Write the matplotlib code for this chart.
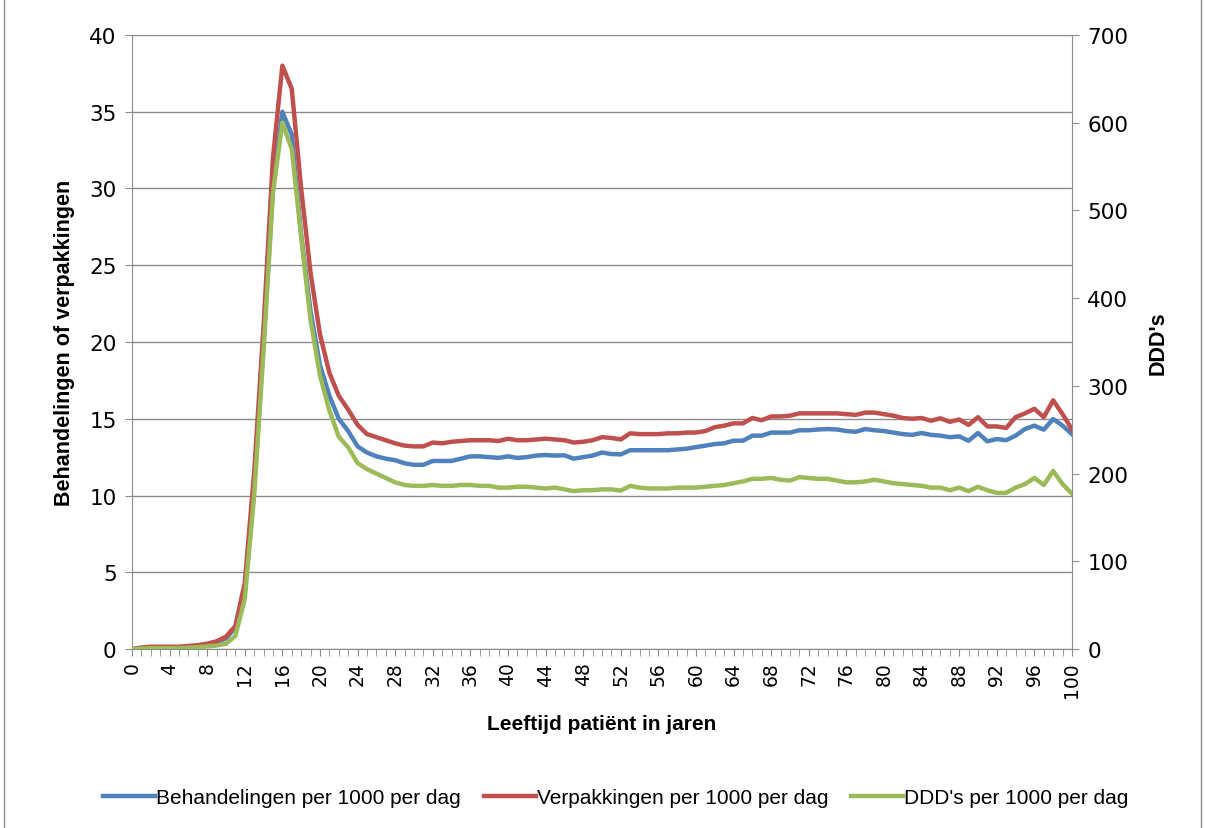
import numpy as np
import matplotlib.pyplot as plt
from matplotlib.patches import Rectangle

# Leeftijd 0..100
leeftijd = list(range(0, 101))

behandelingen = [
    0.0, 0.02, 0.05, 0.05, 0.05, 0.05, 0.1, 0.15, 0.25, 0.4,
    0.7, 1.4, 3.6, 10.5, 20.0, 30.0, 35.0, 33.5, 27.0, 22.0,
    18.5, 16.5, 15.0, 14.2, 13.2, 12.8, 12.55, 12.4, 12.3, 12.1,
    12.0, 12.0, 12.25, 12.25, 12.25, 12.4, 12.55, 12.55, 12.5, 12.45,
    12.55, 12.45, 12.5, 12.6, 12.64, 12.6, 12.62, 12.4, 12.5, 12.6,
    12.8, 12.7, 12.68, 12.95, 12.95, 12.95, 12.95, 12.95, 13.0, 13.05,
    13.15, 13.25, 13.35, 13.4, 13.57, 13.57, 13.9, 13.9, 14.1, 14.1,
    14.1, 14.25, 14.25, 14.3, 14.33, 14.3, 14.2, 14.15, 14.33, 14.25,
    14.2, 14.1, 14.0, 13.95, 14.07, 13.95, 13.9, 13.8, 13.85, 13.57,
    14.07, 13.53, 13.68, 13.6, 13.9, 14.33, 14.55, 14.29, 14.98, 14.55,
    14.0]

verpakkingen = [
    0.0, 0.1, 0.15, 0.15, 0.15, 0.15, 0.2, 0.25, 0.35, 0.5,
    0.8, 1.5, 4.3, 11.5, 21.0, 32.0, 38.0, 36.5, 30.0, 24.5,
    20.5, 18.0, 16.5, 15.6, 14.6, 14.0, 13.8, 13.6, 13.4, 13.25,
    13.2, 13.2, 13.45, 13.4, 13.5, 13.55, 13.6, 13.6, 13.6, 13.55,
    13.7, 13.6, 13.6, 13.65, 13.7, 13.65, 13.6, 13.45, 13.5, 13.6,
    13.8, 13.75, 13.65, 14.05, 14.0, 14.0, 14.0, 14.05, 14.05, 14.1,
    14.1, 14.2, 14.45, 14.55, 14.7, 14.7, 15.05, 14.9, 15.15, 15.15,
    15.2, 15.35, 15.35, 15.35, 15.35, 15.35, 15.3, 15.25, 15.4, 15.4,
    15.3, 15.2, 15.05, 15.0, 15.05, 14.87, 15.03, 14.8, 14.95, 14.6,
    15.1, 14.5, 14.5, 14.4, 15.1, 15.35, 15.65, 15.1, 16.2, 15.3,
    14.3]

ddd = [
    0, 0.5, 1, 1, 1, 1, 1.5, 2, 3, 4,
    6, 15, 57, 175, 340, 520, 600, 570, 470, 375,
    312, 272, 242, 230, 212, 205, 200, 195, 190, 187,
    186, 186, 187, 186, 186, 187, 187, 186, 186, 184,
    184, 185, 185, 184, 183, 184, 182, 180, 181, 181,
    182, 182, 180.6, 186, 184, 183, 183, 183, 184, 184,
    184, 185, 186, 187, 189, 191, 194, 194, 195, 193,
    192, 196, 195, 194, 194, 192, 190, 190, 191, 193,
    191, 189, 188, 187, 186, 184, 184, 181, 184, 180,
    185, 181, 178, 178, 184, 188, 195, 187, 203, 188,
    177]

blauw = '#4F81BD'
rood = '#C0504D'
groen = '#9BBB59'

plt.rcParams['font.family'] = ['DejaVu Sans']
label_font = 'Liberation Sans'

fig = plt.figure(figsize=(12.05, 8.29), dpi=100)
ax = fig.add_axes([0.1095, 0.2159, 0.7801, 0.7407])
ax2 = ax.twinx()

l1, = ax.plot(leeftijd, behandelingen, color=blauw, lw=3.2, solid_joinstyle='round',
              label='Behandelingen per 1000 per dag')
l2, = ax.plot(leeftijd, verpakkingen, color=rood, lw=3.2, solid_joinstyle='round',
              label='Verpakkingen per 1000 per dag')
l3, = ax2.plot(leeftijd, ddd, color=groen, lw=3.2, solid_joinstyle='round',
               label="DDD's per 1000 per dag")

ax.set_xlim(0, 100)
ax.set_ylim(0, 40)
ax2.set_ylim(0, 700)
ax.set_yticks(range(0, 41, 5))
ax2.set_yticks(range(0, 701, 100))
ax.set_xticks(range(0, 101, 4))
ax.set_xticks(range(0, 101, 1), minor=True)

ax.grid(axis='y', color='#8c8c8c', lw=1.0)
ax.set_axisbelow(True)

for a in (ax, ax2):
    for s in a.spines.values():
        s.set_color('#8c8c8c')
    a.spines['top'].set_visible(False)
ax.spines['right'].set_visible(False)
ax2.spines['left'].set_visible(False)
ax2.spines['bottom'].set_visible(False)

ax.tick_params(axis='y', labelsize=15.5, length=5, color='#8c8c8c', pad=6)
ax2.tick_params(axis='y', labelsize=15.5, length=5, color='#8c8c8c', pad=6)
ax.tick_params(axis='x', which='major', labelsize=13.5, length=5, color='#8c8c8c',
               labelrotation=90, pad=4)
ax.tick_params(axis='x', which='minor', length=5, color='#8c8c8c')

ax.set_ylabel('Behandelingen of verpakkingen', fontsize=15.5, fontweight='bold',
              family=label_font, labelpad=10)
ax2.set_ylabel("DDD's", fontsize=15.5, fontweight='bold',
               family=label_font, labelpad=14)
ax.set_xlabel('Leeftijd patiënt in jaren', fontsize=15, fontweight='bold',
              family=label_font, labelpad=12)

fig.legend(handles=[l1, l2, l3], loc='center', bbox_to_anchor=(0.511, 0.037),
           ncol=3, frameon=False, prop={'family': label_font, 'size': 15},
           handlelength=2.5, handletextpad=0.05, columnspacing=1.1)

fig.patches.append(Rectangle((0.003, -0.01), 0.994, 1.02, transform=fig.transFigure,
                             fill=False, edgecolor='#8c8c8c', lw=1.0))

fig.savefig('out.png', dpi=100)
